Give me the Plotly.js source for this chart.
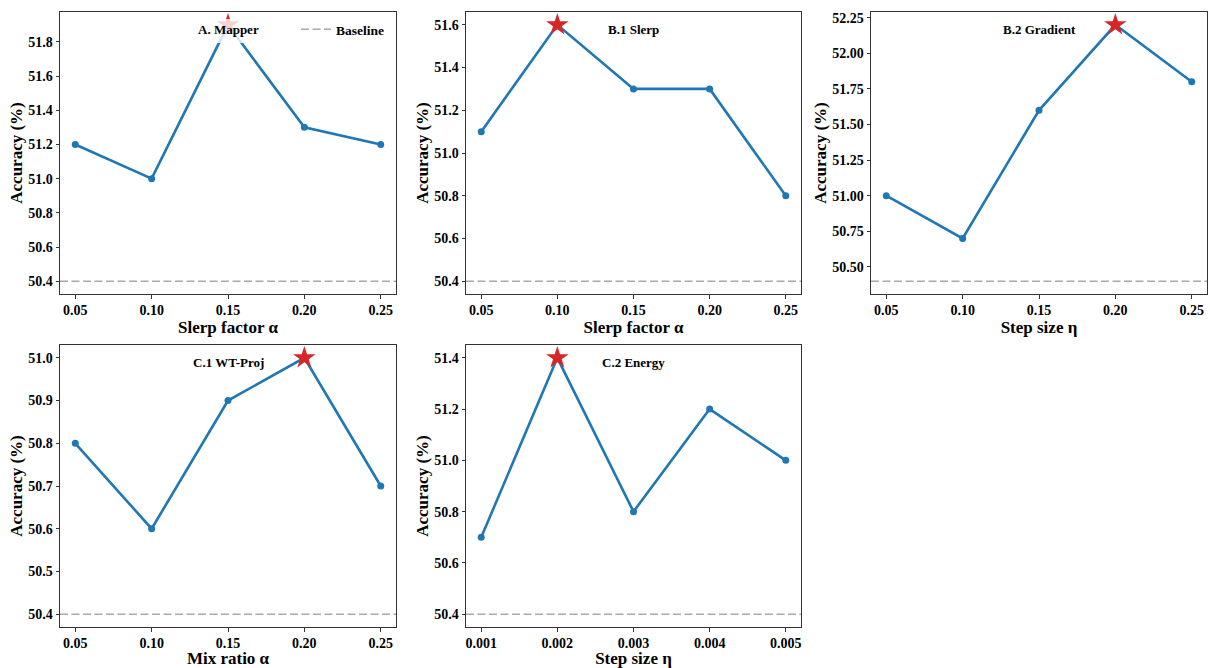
<!DOCTYPE html>
<html>
<head>
<meta charset="utf-8">
<script src="https://cdn.plot.ly/plotly-3.0.1.min.js"></script>
<style>html,body{margin:0;padding:0;background:#fff;}#chart{width:1210px;height:668px;}</style>
</head>
<body>
<div id="chart"></div>
<script>
// ---- data ----
const panelTitles = ["A. Mapper", "B.1 Slerp", "B.2 Gradient", "C.1 WT-Proj", "C.2 Energy"];
const xLabels = ["Slerp factor α", "Slerp factor α", "Step size η", "Mix ratio α", "Step size η"];
const xAlpha = [0.05, 0.10, 0.15, 0.20, 0.25];
const xEta = [0.001, 0.002, 0.003, 0.004, 0.005];
const accMapper = [51.2, 51.0, 51.9, 51.3, 51.2];
const accSlerp = [51.1, 51.6, 51.3, 51.3, 50.8];
const accGradient = [51.0, 50.7, 51.6, 52.2, 51.8];
const accWTProj = [50.8, 50.6, 50.9, 51.0, 50.7];
const accEnergy = [50.7, 51.4, 50.8, 51.2, 51.0];
const baseline = 50.4;
const yDticks = [0.2, 0.2, 0.25, 0.1, 0.2];
const xTickFormats = [".2f", ".2f", ".2f", ".2f", ".3f"];
const yTickFormats = [".1f", ".1f", ".2f", ".1f", ".1f"];

const xsList = [xAlpha, xAlpha, xAlpha, xAlpha, xEta];
const ysList = [accMapper, accSlerp, accGradient, accWTProj, accEnergy];

// ---- layout geometry (px) ----
const W = 1210, H = 668;
const colX = [[60, 396], [466, 801], [871, 1207]];
const rowY = [[12, 294], [345, 627]];
const cells = [[0,0],[0,1],[0,2],[1,0],[1,1]];

const FONT = "Liberation Serif, Times New Roman, serif";
const blue = "#1f77b4", red = "#d62728";
const baseDash = "8px,3.5px";

const data = [];
const layout = {
  width: W, height: H,
  margin: {l: 0, r: 0, t: 0, b: 0},
  paper_bgcolor: "#fff", plot_bgcolor: "#fff",
  font: {family: FONT, color: "#000", weight: "bold"},
  showlegend: true,
  legend: {
    x: 296 / W, y: 1 - 14 / H, xanchor: "left", yanchor: "top",
    bgcolor: "rgba(0,0,0,0)", borderwidth: 0,
    font: {family: FONT, size: 13.5, color: "#000", weight: "bold"}
  },
  shapes: [], annotations: []
};

cells.forEach((c, i) => {
  const idx = i + 1;
  const xa = idx === 1 ? "x" : "x" + idx;
  const ya = idx === 1 ? "y" : "y" + idx;
  const xs = xsList[i], ys = ysList[i];
  const [x0, x1] = colX[c[1]], [y0, y1] = rowY[c[0]];

  const xmin = Math.min(...xs), xmax = Math.max(...xs);
  const xpad = 0.05 * (xmax - xmin);
  const ymin = Math.min(...ys, baseline), ymax = Math.max(...ys);
  const ypad = 0.05 * (ymax - ymin);

  const axCommon = {
    showgrid: false, zeroline: false,
    showline: true, mirror: true, linecolor: "#333", linewidth: 1,
    ticks: "outside", ticklen: 3.5, tickwidth: 1, tickcolor: "#333",
    tickfont: {family: FONT, size: 14, color: "#000", weight: "bold"},
    fixedrange: true
  };
  layout["xaxis" + (idx === 1 ? "" : idx)] = Object.assign({}, axCommon, {
    domain: [x0 / W, x1 / W], anchor: ya,
    range: [xmin - xpad, xmax + xpad],
    tickmode: "array", tickvals: xs, tickformat: xTickFormats[i],
    title: {text: xLabels[i], font: {family: FONT, size: 17, color: "#000", weight: "bold"}, standoff: 0}
  });
  layout["yaxis" + (idx === 1 ? "" : idx)] = Object.assign({}, axCommon, {
    domain: [1 - y1 / H, 1 - y0 / H], anchor: xa,
    range: [ymin - ypad, ymax + ypad],
    tick0: 0, dtick: yDticks[i], tickformat: yTickFormats[i],
    title: {text: "Accuracy (%)", font: {family: FONT, size: 17, color: "#000", weight: "bold"}, standoff: 1}
  });

  // baseline
  layout.shapes.push({
    type: "line", xref: xa + " domain", yref: ya, x0: 0, x1: 1, y0: baseline, y1: baseline,
    line: {color: "#aaaaaa", width: 1.5, dash: baseDash}, layer: "below"
  });

  // main line
  data.push({
    x: xs, y: ys, xaxis: xa, yaxis: ya, type: "scatter", mode: "lines+markers",
    line: {color: blue, width: 2.6}, marker: {color: blue, size: 7},
    showlegend: false, hoverinfo: "skip", cliponaxis: false
  });
  // best star
  const best = ys.indexOf(ymax);
  data.push({
    x: [xs[best]], y: [ys[best]], xaxis: xa, yaxis: ya, type: "scatter", mode: "markers",
    marker: {symbol: "star", color: red, size: 17, line: {width: 0}},
    showlegend: false, hoverinfo: "skip", cliponaxis: false
  });

  // panel title
  layout.annotations.push({
    xref: xa + " domain", yref: ya + " domain", x: 0.5, y: 1 - 17 / (y1 - y0),
    xanchor: "center", yanchor: "middle", showarrow: false,
    text: panelTitles[i], font: {family: FONT, size: 13, color: "#000", weight: "bold"}
  });
});

// legend backdrop (semi-transparent white) in panel A
layout.shapes.push({
  type: "rect", xref: "paper", yref: "paper",
  x0: 204 / W, x1: 393 / W, y0: 1 - 43 / H, y1: 1 - 19 / H,
  fillcolor: "rgba(255,255,255,0.8)", line: {width: 0}, layer: "above"
});

// legend entry for baseline
data.push({
  x: [null], y: [null], xaxis: "x", yaxis: "y", type: "scatter", mode: "lines",
  name: "Baseline", line: {color: "#aaaaaa", width: 1.5, dash: baseDash}, showlegend: true
});

Plotly.newPlot("chart", data, layout, {displayModeBar: false, staticPlot: true});
</script>
</body>
</html>
